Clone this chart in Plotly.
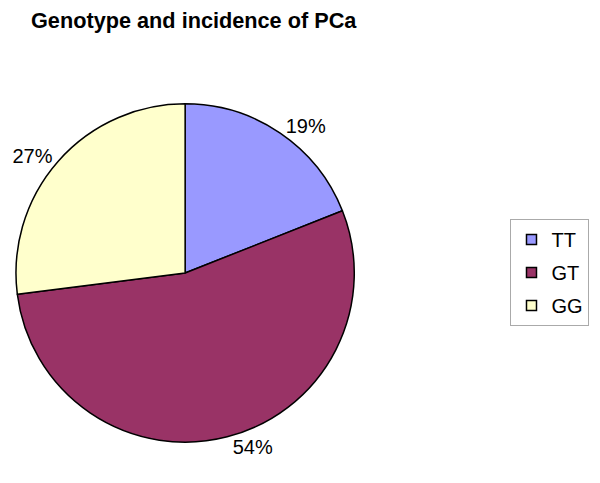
import plotly.graph_objects as go

labels = ["TT", "GT", "GG"]
values = [19, 54, 27]
colors = ["#9999FF", "#993366", "#FFFFCC"]
title_text = "Genotype and incidence of PCa"

W, H = 600, 483
OFF = 8  # page body margin

def px(x):
    return (x - OFF) / W

def py(y):
    return 1 - (y - OFF) / H

FONT = "Liberation Sans, Arial"

fig = go.Figure()
fig.add_trace(go.Pie(
    labels=labels, values=values, sort=False, direction="clockwise", rotation=0,
    marker=dict(colors=colors, line=dict(color="black", width=1.5)),
    textinfo="percent", texttemplate="%{percent:.0%}", textposition="outside",
    textfont=dict(family=FONT, size=20, color="black"),
    domain=dict(x=[px(13), px(353)], y=[py(443), py(103)]),
    showlegend=False, hoverinfo="label+percent",
))
for lab, col in zip(labels, colors):
    fig.add_trace(go.Scatter(
        x=[None], y=[None], mode="markers", name=lab, legendgroup=lab,
        marker=dict(symbol="square", size=10, color=col, line=dict(color="black", width=1.5)),
    ))

fig.update_layout(
    width=W, height=H, margin=dict(l=0, r=0, t=0, b=0),
    paper_bgcolor="white", plot_bgcolor="white",
    xaxis=dict(visible=False), yaxis=dict(visible=False),
    title=dict(text="<b>" + title_text + "</b>", x=px(31), xanchor="left", y=py(20), yanchor="middle",
               font=dict(family=FONT, size=21.7, color="black")),
    legend=dict(x=px(510), y=py(219), xanchor="left", yanchor="top",
                bordercolor="#AAAAAA", borderwidth=1, tracegroupgap=4,
                font=dict(family=FONT, size=20, color="black"),
                itemwidth=30),
)
fig.write_html("out.html")
